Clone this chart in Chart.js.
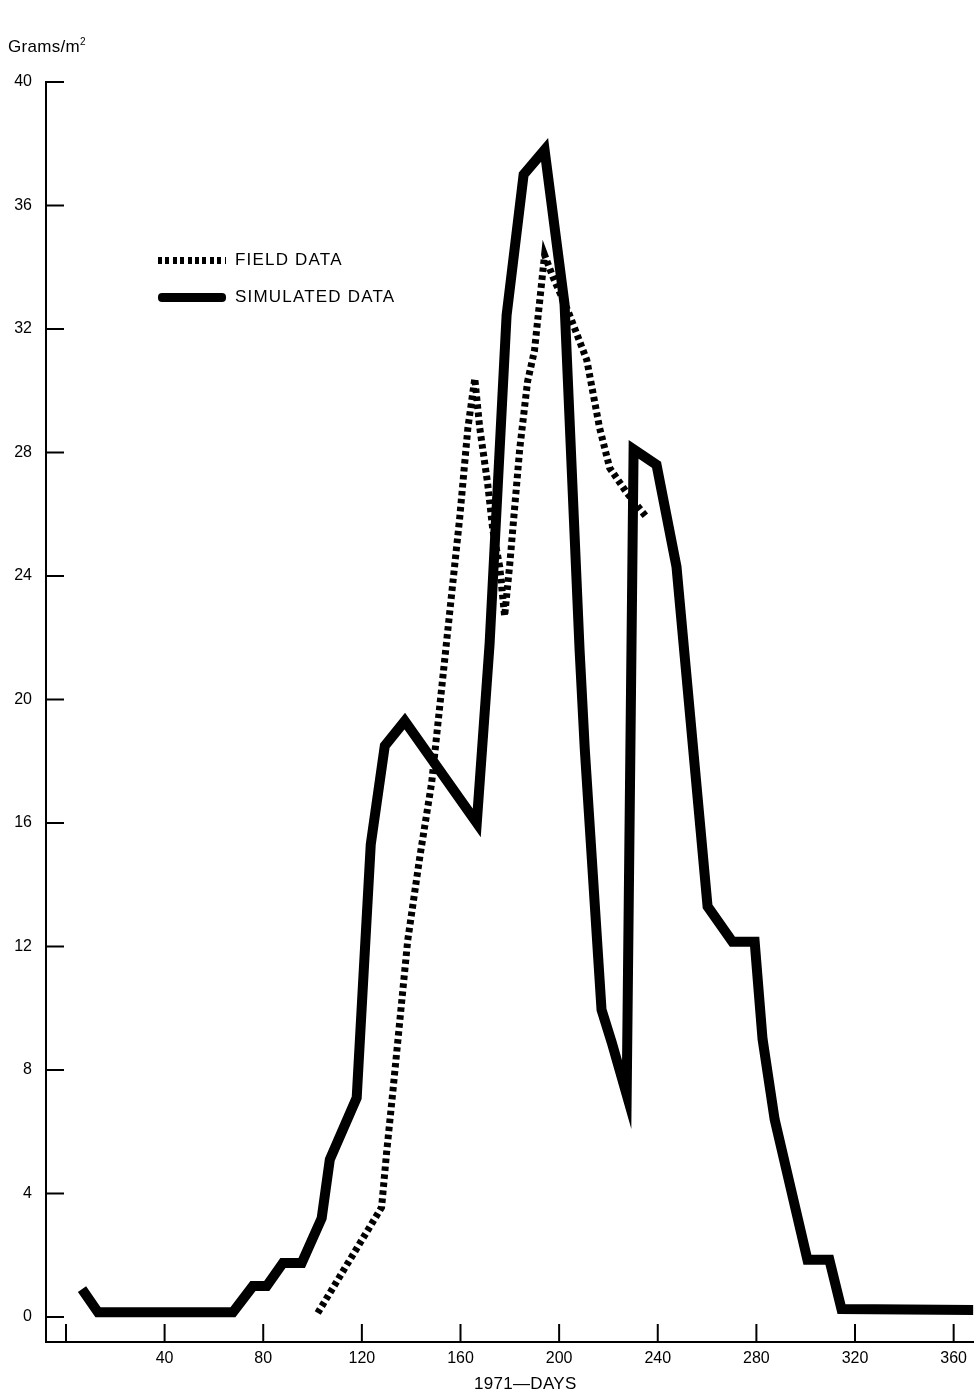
<!DOCTYPE html>
<html>
<head>
<meta charset="utf-8">
<title>Field vs simulated biomass 1971</title>
<script src="https://cdn.jsdelivr.net/npm/chart.js@4.4.1/dist/chart.umd.min.js"></script>
<style>
  body { margin: 0; background: #fff; }
  #wrap { position: relative; width: 974px; height: 1394px; font-family: 'Liberation Sans', Arial, sans-serif; color: #000; }
  #wrap canvas { position: absolute; left: 0; top: 0; }
  .lbl { position: absolute; white-space: nowrap; }
  #unit { left: 8px; top: 36px; font-size: 17px; letter-spacing: 0.3px; }
  #unit sup { font-size: 10px; vertical-align: 7px; }
  #xtitle { left: 474px; top: 1374px; font-size: 17px; letter-spacing: 0.3px; }
  .key { position: absolute; left: 158px; width: 68px; }
  #keyField { top: 257px; height: 7px; background: repeating-linear-gradient(to right, #000 0 4px, transparent 4px 7.4px); }
  #keySim { top: 293px; height: 9px; background: #000; border-radius: 4px; }
  .keyText { left: 235px; font-size: 17px; letter-spacing: 1.2px; }
</style>
</head>
<body>
<div id="wrap">
  <canvas id="chart"></canvas>
  <div class="lbl" id="unit">Grams/m<sup>2</sup></div>
  <div class="key" id="keyField"></div>
  <div class="lbl keyText" style="top:250px">FIELD DATA</div>
  <div class="key" id="keySim"></div>
  <div class="lbl keyText" style="top:287px">SIMULATED DATA</div>
  <div class="lbl" id="xtitle">1971—DAYS</div>
</div>
<script>
// values (day of year, grams per m2)
const simDays = [6.5, 13, 67.7, 75.8, 81.4, 88, 95.6, 103.7, 107, 117.9, 123.6, 129.3, 137.4, 166.6,
  171.8, 178.7, 185.6, 194.1, 202.2, 208.3, 210.4, 217.2, 221.3, 227.4, 230.2, 239.5, 247.6,
  260.2, 270.3, 279.3, 282.5, 287.4, 300.7, 309.6, 314.5, 368];
const simValues = [0.9, 0.15, 0.15, 1.0, 1.0, 1.75, 1.75, 3.2, 5.1, 7.1, 15.3, 18.5, 19.3, 16.0,
  21.8, 32.45, 37.0, 37.8, 32.8, 21.6, 18.4, 9.95, 8.9, 7.2, 28.1, 27.6, 24.3,
  13.3, 12.15, 12.15, 9.0, 6.4, 1.85, 1.85, 0.26, 0.23];

const fieldDays = [102.1, 128, 130, 132.5, 138.6, 143.5, 148.3, 154, 159.7, 163, 165.8,
  167.8, 171, 173.1, 175.9, 177.9, 180, 184, 187.2, 190, 194.1,
  197.4, 203.5, 211.2, 216.4, 220.5, 227.4, 235.5];
const fieldValues = [0.13, 3.55, 5.3, 7.25, 12.2, 14.9, 17.3, 21.6, 25.9, 28.8, 30.4,
  28.8, 27.0, 25.5, 24.3, 22.7, 24.4, 28.1, 30.3, 31.3, 34.4,
  33.7, 32.6, 31.0, 28.8, 27.5, 26.7, 25.9];

const xTicks = [0, 40, 80, 120, 160, 200, 240, 280, 320, 360];
const yTicks = [0, 4, 8, 12, 16, 20, 24, 28, 32, 36, 40];

const toPoints = (xs, ys) => xs.map((x, i) => ({ x: x, y: ys[i] }));

// short inward tick marks, like the printed figure
const tickMarks = {
  id: "tickMarks",
  afterDraw(chart) {
    const { ctx, chartArea, scales } = chart;
    ctx.save();
    ctx.strokeStyle = "#000";
    ctx.lineWidth = 2;
    scales.y.ticks.forEach((t) => {
      const py = scales.y.getPixelForValue(t.value);
      ctx.beginPath();
      ctx.moveTo(chartArea.left, py);
      ctx.lineTo(chartArea.left + 18, py);
      ctx.stroke();
    });
    scales.x.ticks.forEach((t) => {
      const px = scales.x.getPixelForValue(t.value);
      ctx.beginPath();
      ctx.moveTo(px, chartArea.bottom);
      ctx.lineTo(px, chartArea.bottom - 18);
      ctx.stroke();
    });
    ctx.restore();
  },
};

Chart.defaults.font.family = "'Liberation Sans', Arial, sans-serif";
Chart.defaults.font.size = 16;
Chart.defaults.color = "#000";

new Chart(document.getElementById("chart"), {
  type: "line",
  data: {
    datasets: [
      {
        label: "SIMULATED DATA",
        data: toPoints(simDays, simValues),
        borderColor: "#000",
        borderWidth: 10,
        borderJoinStyle: "miter",
        borderCapStyle: "butt",
        pointRadius: 0,
        tension: 0,
      },
      {
        label: "FIELD DATA",
        data: toPoints(fieldDays, fieldValues),
        borderColor: "#000",
        borderWidth: 7,
        borderDash: [4.5, 3.5],
        borderCapStyle: "butt",
        pointRadius: 0,
        tension: 0,
      },
    ],
  },
  options: {
    responsive: true,
    maintainAspectRatio: false,
    animation: false,
    layout: { padding: { top: 82, right: 0, left: 0, bottom: 0 } },
    plugins: { legend: { display: false }, tooltip: { enabled: false } },
    scales: {
      x: {
        type: "linear",
        min: -8.1,
        max: 368,
        afterBuildTicks: (s) => { s.ticks = xTicks.map((v) => ({ value: v })); },
        afterFit: (s) => { s.height = 52; },
        ticks: { padding: 7, maxRotation: 0, autoSkip: false, callback: (v) => (v === 0 ? "" : v) },
        grid: { display: true, drawOnChartArea: false, drawTicks: false },
        border: { color: "#000", width: 2 },
      },
      y: {
        min: -0.81,
        max: 40,
        afterBuildTicks: (s) => { s.ticks = yTicks.map((v) => ({ value: v })); },
        afterFit: (s) => { s.width = 46; },
        ticks: { padding: 14, autoSkip: false },
        grid: { display: true, drawOnChartArea: false, drawTicks: false },
        border: { color: "#000", width: 2 },
      },
    },
  },
  plugins: [tickMarks],
});
</script>
</body>
</html>
